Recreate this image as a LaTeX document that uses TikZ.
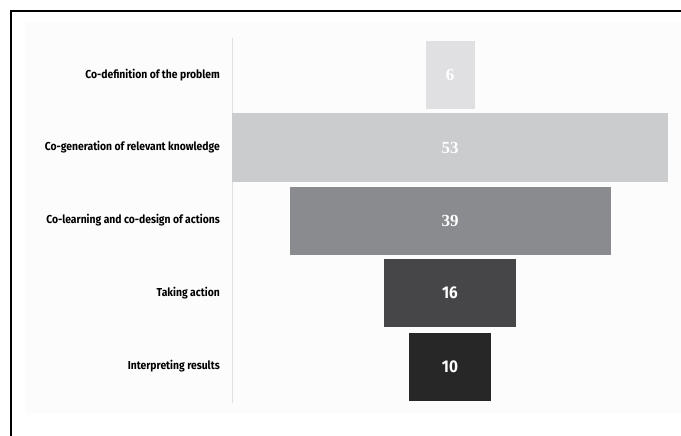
\documentclass[tikz,border=0pt]{standalone}
\usepackage{fontspec}
\newfontfamily\labelfont{Fira Sans}[FakeStretch=0.9]
\newfontfamily\numfont{Liberation Serif}
\definecolor{barA}{HTML}{E0E0E2}
\definecolor{barB}{HTML}{CBCCCE}
\definecolor{barC}{HTML}{8A8B8E}
\definecolor{barD}{HTML}{464648}
\definecolor{barE}{HTML}{282728}
\tikzset{
    bar/.style={minimum height=68pt, inner sep=0pt, text=white},
    serifnum/.style={font=\numfont\bfseries\fontsize{17}{17}\selectfont},
    sansnum/.style={font=\labelfont\bfseries\fontsize{17}{17}\selectfont},
    stage/.style={anchor=east, inner sep=0pt, font=\labelfont\bfseries\fontsize{11.5}{13}\selectfont}
}
\begin{document}
\begin{tikzpicture}[x=1pt, y=-1pt]
        \useasboundingbox (0, 0) rectangle (681, 436);
        \coordinate (O) at (450, 0);
        \coordinate (A) at (232, 38);
        \coordinate (B) at (232, 403);

        % Background and frame
        \fill[black!1] (25, 22) rectangle (681, 413);
        \draw[line width=2pt] (11, 436) -- (11, 11) -- (681, 11);

        % Axis
        \draw[black!12, line width=0.8pt] (A) -- (B);

        % Bars (width = count x 8.23)
        \node[bar, serifnum, fill=barA, minimum width=49pt] (prob) at (450, 75) {6};
        \node[bar, serifnum, fill=barB, minimum width=436pt] (know) at (450, 147.5) {53};
        \node[bar, serifnum, fill=barC, minimum width=321pt] (design) at (450, 220.5) {39};
        \node[bar, sansnum, fill=barD, minimum width=132pt] (action) at (450, 293) {16};
        \node[bar, sansnum, fill=barE, minimum width=82pt] (results) at (450, 366.5) {10};

        % Stage labels
        \node[stage] (l1) at (220, 75) {Co-definition of the problem};
        \node[stage] (l2) at (220, 147.5) {Co-generation of relevant knowledge};
        \node[stage] (l3) at (220, 220.5) {Co-learning and co-design of actions};
        \node[stage] (l4) at (220, 293) {Taking action};
        \node[stage] (l5) at (220, 366.5) {Interpreting results};

    \end{tikzpicture}
\end{document}
